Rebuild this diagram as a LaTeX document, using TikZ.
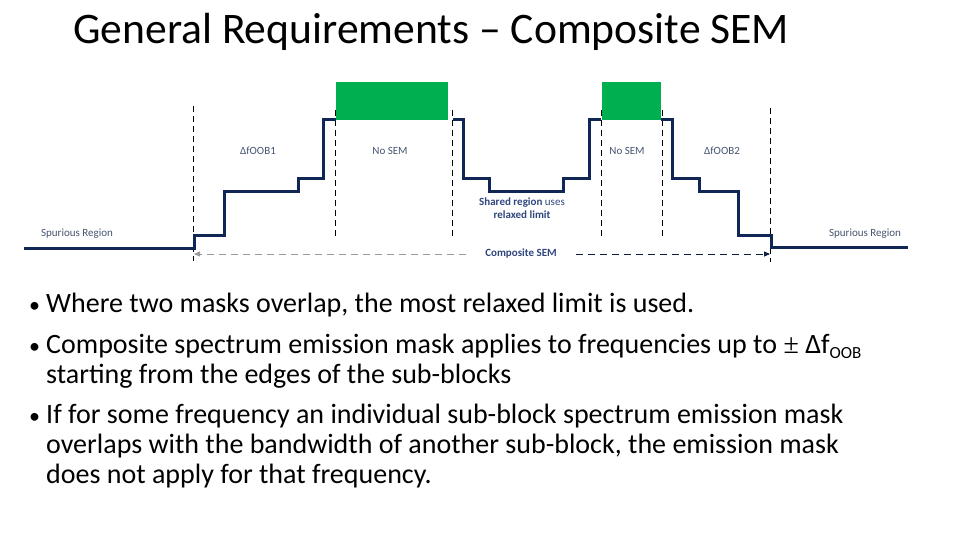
\documentclass[tikz,border=0pt]{standalone}
\usepackage{fontspec}
\setmainfont{Carlito}
\newfontfamily\symfont{Liberation Serif}
\usetikzlibrary{arrows.meta}
\definecolor{navy}{RGB}{16,38,84}
\definecolor{sgreen}{RGB}{0,176,80}
\definecolor{lbl}{RGB}{70,84,110}
\definecolor{lblblue}{RGB}{47,70,125}
\begin{document}
\begin{tikzpicture}[x=1pt,y=-1pt,
  mask/.style={draw=navy,line width=3pt,line join=miter},
  vdash/.style={draw=black,line width=0.8pt,dash pattern=on 6pt off 4pt},
  small/.style={font=\fontsize{11}{13}\selectfont,text=lbl,inner sep=0pt},
  bullettxt/.style={font=\fontsize{28}{30}\selectfont,anchor=base west,inner sep=0pt},
  dotstyle/.style={font=\fontsize{22}{30}\selectfont,anchor=base west,inner sep=0pt},
  blk/.style={fill=sgreen,draw=none}]
\useasboundingbox (0,0) rectangle (960,540);

% title
\node[anchor=base west,inner sep=0pt,font=\fontsize{43.6}{52}\selectfont] (title) at (73,44) {General Requirements – Composite SEM};

% green sub-blocks
\path[blk] (336,82) rectangle (448,120);
\path[blk] (602,82) rectangle (661,120);

% dashed vertical boundaries
\draw[vdash] (193,106) -- (193,261);
\draw[vdash] (335,110) -- (335,237);
\draw[vdash] (452,110) -- (452,237);
\draw[vdash] (601,110) -- (601,237);
\draw[vdash] (662,110) -- (662,237);
\draw[vdash] (770,108) -- (770,262);

% mask
\draw[mask] (24,248) -- (194,248) -- (194,235) -- (224,235) -- (224,191) -- (298,191) -- (298,179) -- (323,179) -- (323,120) -- (336,120);
\draw[mask] (453,120) -- (463,120) -- (463,179) -- (489,179) -- (489,191) -- (563,191) -- (563,179) -- (589,179) -- (589,120) -- (601,120);
\draw[mask] (661,120) -- (672,120) -- (672,179) -- (699,179) -- (699,191) -- (738,191) -- (738,235) -- (771,235) -- (771,247) -- (908,247);

% labels
\node[small] (sp1) at (77,234) {Spurious Region};
\node[small] (oob1) at (258,151) {ΔfOOB1};
\node[small] (ns1) at (390,151) {No SEM};
\node[small] (ns2) at (627,151) {No SEM};
\node[small] (oob2) at (722,151) {ΔfOOB2};
\node[small] (sp2) at (865,234) {Spurious Region};
\node[small,text=lblblue,align=center,font=\fontsize{11}{13}\selectfont] (shared) at (522,208) {\textbf{Shared region} uses\\\textbf{relaxed limit}};

% composite SEM arrow
\coordinate (cl) at (194,254);
\coordinate (cr) at (770,254);
\node[small,text=lblblue,font=\bfseries\fontsize{11}{13}\selectfont,inner xsep=19pt] (comp) at (521,254) {Composite SEM};
\draw[draw=black!40,line width=1pt,dash pattern=on 7pt off 5pt,-{Triangle[length=6pt,width=5pt]}] (comp.west) -- (cl);
\draw[draw=navy!80!black,line width=1pt,dash pattern=on 7pt off 5pt,-{Triangle[length=6pt,width=5pt]}] (comp.east) -- (cr);

% bullets
\node[dotstyle] (b1d) at (29,312) {•};
\node[bullettxt] (b1) at (46,312) {Where two masks overlap, the most relaxed limit is used.};
\node[dotstyle] (b2d) at (29,353) {•};
\node[bullettxt] (b2) at (46,353) {Composite spectrum emission mask applies to frequencies up to {\symfont ±} Δf\raisebox{-5pt}{\fontsize{17}{17}\selectfont OOB}};
\node[bullettxt] (b2b) at (46,383) {starting from the edges of the sub-blocks};
\node[dotstyle] (b3d) at (29,423) {•};
\node[bullettxt] (b3) at (46,423) {If for some frequency an individual sub-block spectrum emission mask};
\node[bullettxt] (b3b) at (46,453) {overlaps with the bandwidth of another sub-block, the emission mask};
\node[bullettxt] (b3c) at (46,483) {does not apply for that frequency.};
\end{tikzpicture}
\end{document}
